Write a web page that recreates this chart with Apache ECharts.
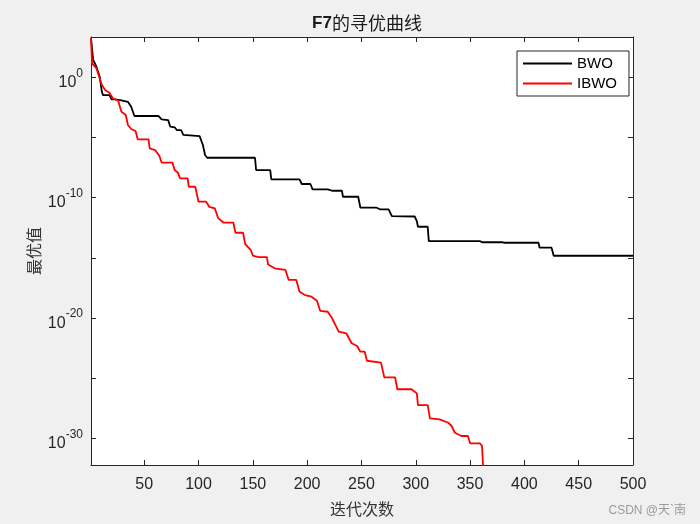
<!DOCTYPE html>
<html><head><meta charset="utf-8">
<script src="https://cdn.jsdelivr.net/npm/echarts@6/dist/echarts.min.js"></script>
<style>html,body{margin:0;padding:0;background:#f0f0f0}#c{width:700px;height:524px}</style>
</head><body><div id="c"></div>
<script>
// Iteration numbers of the breakpoints and log10 of best fitness
const bwoIter  = [1, 3, 6, 9, 11, 12, 18, 20, 23, 28, 35, 38, 41, 63, 66, 72, 74, 78, 80, 84, 86, 101, 104, 106, 108, 152, 153, 166, 167, 193, 195, 203, 205, 219, 223, 232, 233, 247, 249, 264, 267, 275, 278, 299, 301, 302, 311, 312, 359, 361, 380, 382, 413, 414, 425, 427, 500];
const bwoLog10 = [3.26, 1.44, 0.88, 0.05, -1.20, -1.47, -1.47, -1.83, -1.83, -1.89, -2.03, -2.44, -3.21, -3.21, -3.49, -3.55, -4.10, -4.15, -4.38, -4.38, -4.78, -4.88, -5.62, -6.45, -6.68, -6.68, -7.70, -7.70, -8.47, -8.47, -8.86, -8.86, -9.30, -9.30, -9.42, -9.42, -9.92, -9.92, -10.83, -10.83, -10.96, -10.96, -11.52, -11.56, -11.94, -12.41, -12.41, -13.60, -13.60, -13.70, -13.70, -13.74, -13.74, -14.15, -14.15, -14.82, -14.82];

const ibwoIter  = [1, 2, 6, 8, 11, 14, 18, 21, 26, 29, 33, 35, 38, 42, 44, 54, 55, 60, 64, 66, 76, 78, 81, 83, 90, 91, 97, 100, 107, 110, 115, 118, 123, 132, 134, 141, 143, 148, 150, 155, 163, 164, 170, 180, 183, 190, 193, 198, 204, 209, 212, 219, 223, 226, 229, 236, 241, 246, 249, 253, 255, 268, 271, 281, 283, 296, 301, 302, 311, 313, 322, 330, 333, 336, 342, 348, 350, 359, 361, 363];
const ibwoLog10 = [3.26, 1.16, 0.75, 0.19, -0.64, -1.05, -1.28, -1.74, -1.94, -2.86, -3.13, -3.96, -4.29, -4.46, -5.15, -5.15, -5.90, -6.04, -6.54, -7.08, -7.08, -7.70, -7.92, -8.39, -8.39, -9.09, -9.09, -10.33, -10.33, -10.77, -10.88, -11.69, -12.06, -12.06, -12.91, -12.91, -13.86, -14.34, -14.80, -14.93, -14.93, -15.55, -15.86, -16.00, -16.83, -16.83, -17.81, -18.08, -18.22, -18.55, -19.39, -19.47, -20.02, -20.57, -21.13, -21.26, -22.09, -22.32, -22.79, -22.79, -23.54, -23.70, -24.92, -24.92, -25.91, -25.91, -26.25, -27.22, -27.22, -28.32, -28.41, -28.69, -28.96, -29.52, -29.79, -29.79, -30.40, -30.40, -30.60, -34.00];

const xTicks = [50, 100, 150, 200, 250, 300, 350, 400, 450, 500];
const yTickExps = [-30, -25, -20, -15, -10, -5, 0];
const yLabelExps = [-30, -20, -10, 0];

const FONT = 'Liberation Sans, Arial, sans-serif';
const CJK = 'Noto Sans CJK SC, sans-serif';
const AX = '#262626';

const chart = echarts.init(document.getElementById('c'), null, {renderer: 'canvas'});

const baseX = (pos) => ({
  type: 'value', min: 1, max: 500, position: pos, gridIndex: 0,
  axisLine: {show: true, onZero: false, lineStyle: {color: AX, width: 1}},
  axisTick: {show: true, inside: true, length: 5, customValues: xTicks, lineStyle: {color: AX}},
  axisLabel: {show: false}, splitLine: {show: false}
});
const baseY = (pos) => ({
  type: 'value', min: -32.2, max: 3.35, position: pos, gridIndex: 0,
  axisLine: {show: true, onZero: false, lineStyle: {color: AX, width: 1}},
  axisTick: {show: true, inside: true, length: 5, customValues: yTickExps, lineStyle: {color: AX}},
  axisLabel: {show: false}, splitLine: {show: false}
});

chart.setOption({
  backgroundColor: '#f0f0f0',
  animation: false,
  title: {
    text: '{a|F7}{c|的寻优曲线}', left: 362, top: 9, textAlign: 'center',
    textStyle: {
      rich: {
        a: {fontFamily: FONT, fontSize: 17, fontWeight: 'bold', color: '#1a1a1a'},
        c: {fontFamily: CJK, fontSize: 18, fontWeight: 'normal', color: '#1a1a1a'}
      }
    }
  },
  grid: {left: 91, right: 67, top: 37, bottom: 59, show: true, backgroundColor: '#fff', borderWidth: 0},
  legend: {
    orient: 'vertical', left: 517, top: 51,
    icon: 'rect', itemWidth: 49, itemHeight: 2, itemGap: 3,
    padding: [4, 12, 4, 6],
    borderColor: '#262626', borderWidth: 1, backgroundColor: '#fff',
    textStyle: {fontFamily: FONT, fontSize: 15, color: '#000', lineHeight: 17},
    data: ['BWO', 'IBWO']
  },
  xAxis: [
    Object.assign(baseX('bottom'), {
      name: '迭代次数', nameLocation: 'middle', nameGap: 36,
      nameTextStyle: {fontFamily: CJK, fontSize: 16, color: '#333'},
      axisLabel: {show: true, customValues: xTicks, fontFamily: FONT, fontSize: 16, color: AX, margin: 12}
    }),
    baseX('top')
  ],
  yAxis: [
    Object.assign(baseY('left'), {
      name: '最优值', nameLocation: 'middle', nameRotate: 90, nameGap: 49, nameMoveOverlap: false,
      nameTextStyle: {fontFamily: CJK, fontSize: 16, color: '#333'},
      axisLabel: {
        show: true, customValues: yLabelExps, margin: 8,
        formatter: (v) => '{b|10}{s|' + Math.round(v) + '}',
        rich: {
          b: {fontFamily: FONT, fontSize: 16, color: AX, verticalAlign: 'bottom', padding: [0, 0, -3, 0]},
          s: {fontFamily: FONT, fontSize: 12, color: AX, verticalAlign: 'bottom', padding: [0, 0, 8, 0]}
        }
      }
    }),
    baseY('right')
  ],
  series: [
    {name: 'BWO', type: 'line', xAxisIndex: 0, yAxisIndex: 0, symbol: 'none', clip: true,
     lineStyle: {color: '#000', width: 1.8}, itemStyle: {color: '#000'},
     data: bwoIter.map((x, i) => [x, bwoLog10[i]])},
    {name: 'IBWO', type: 'line', xAxisIndex: 0, yAxisIndex: 0, symbol: 'none', clip: true,
     lineStyle: {color: '#ff0000', width: 1.8}, itemStyle: {color: '#ff0000'},
     data: ibwoIter.map((x, i) => [x, ibwoLog10[i]])}
  ],
  graphic: [{
    type: 'text', right: 14, top: 505,
    style: {text: 'CSDN @天`南', fontFamily: FONT + ',' + CJK, fontSize: 12, fill: '#9a9a9a'}
  }]
});
</script></body></html>
